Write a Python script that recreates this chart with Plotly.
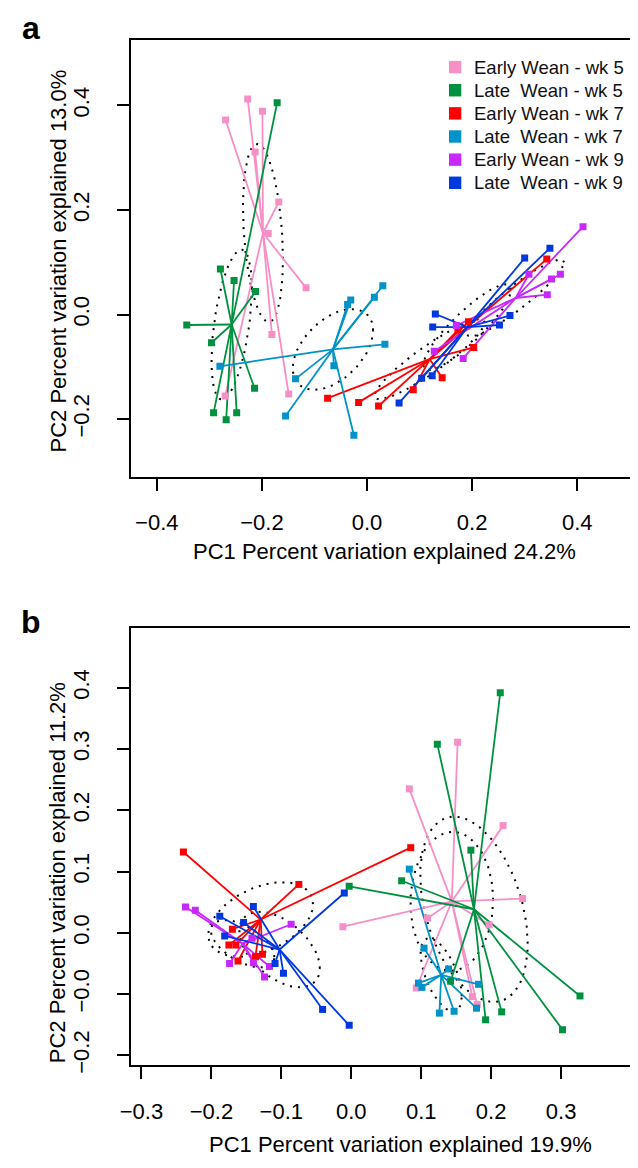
import numpy as np
import plotly.graph_objects as go

# ---------------- data ----------------
GROUPS = ["Early Wean - wk 5", "Late\u00a0 Wean - wk 5", "Early Wean - wk 7",
          "Late\u00a0 Wean - wk 7", "Early Wean - wk 9", "Late\u00a0 Wean - wk 9"]
COLORS = ["#F78FC7", "#009140", "#FF0000", "#0092C8", "#C828FF", "#0038E0"]

# panel a (PC1 24.2%, PC2 13.0%)
A_EW5_X = [-0.269, -0.227, -0.199, -0.213, -0.168, -0.188, -0.116, -0.181, -0.149, -0.270]
A_EW5_Y = [0.372, 0.412, 0.389, 0.311, 0.215, 0.155, 0.051, -0.038, -0.152, -0.156]
A_LW5_X = [-0.171, -0.279, -0.253, -0.212, -0.343, -0.296, -0.214, -0.292, -0.268, -0.248]
A_LW5_Y = [0.405, 0.087, 0.065, 0.044, -0.020, -0.054, -0.141, -0.188, -0.201, -0.188]
A_EW7_X = [-0.075, -0.016, 0.022, 0.088, 0.143, 0.203, 0.173, 0.193, 0.342]
A_EW7_Y = [-0.160, -0.168, -0.175, -0.144, -0.121, -0.063, -0.030, -0.014, 0.106]
A_LW7_X = [-0.031, -0.037, 0.014, 0.030, 0.034, -0.063, -0.280, -0.136, -0.155, -0.025]
A_LW7_Y = [0.028, 0.019, 0.033, 0.055, -0.057, -0.098, -0.099, -0.123, -0.194, -0.231]
A_EW9_X = [0.411, 0.368, 0.351, 0.343, 0.308, 0.183, 0.128, 0.170]
A_EW9_Y = [0.168, 0.077, 0.068, 0.038, 0.077, -0.084, -0.070, -0.021]
A_LW9_X = [0.061, 0.104, 0.124, 0.130, 0.125, 0.252, 0.272, 0.300, 0.348]
A_LW9_Y = [-0.169, -0.122, -0.117, 0.001, -0.024, -0.020, -0.002, 0.108, 0.127]

# panel b (PC1 19.9%, PC2 11.2%)
B_EW5_X = [0.152, 0.083, 0.217, 0.245, -0.012, 0.109, 0.197, 0.093, 0.173, 0.180]
B_EW5_Y = [0.311, 0.235, 0.175, 0.056, 0.010, 0.024, 0.013, -0.090, -0.104, -0.117]
B_LW5_X = [0.213, 0.123, 0.171, 0.072, -0.003, 0.327, 0.302, 0.215, 0.192, 0.142]
B_LW5_Y = [0.392, 0.308, 0.135, 0.085, 0.076, -0.103, -0.158, -0.129, -0.142, -0.079]
B_EW7_X = [-0.240, -0.075, -0.170, -0.175, -0.165, -0.162, -0.137, -0.127, 0.085]
B_EW7_Y = [0.132, 0.079, 0.006, -0.020, -0.020, -0.046, -0.039, -0.035, 0.139]
B_LW7_X = [0.083, 0.104, 0.139, 0.096, 0.101, 0.182, 0.126, 0.147, 0.179]
B_LW7_Y = [0.104, -0.025, -0.059, -0.082, -0.089, -0.084, -0.131, -0.128, -0.123]
B_EW9_X = [-0.237, -0.223, -0.086, -0.174, -0.140, -0.117, -0.124, -0.142]
B_EW9_Y = [0.042, 0.037, 0.014, -0.050, -0.049, -0.055, -0.072, -0.009]
B_LW9_X = [-0.140, -0.188, -0.154, -0.181, -0.109, -0.097, -0.041, -0.010, -0.003]
B_LW9_Y = [0.043, 0.027, 0.017, -0.005, -0.050, -0.066, -0.125, 0.065, -0.151]

A_XTICKS = [-0.4, -0.2, 0.0, 0.2, 0.4]
A_XLABELS = ["\u22120.4", "\u22120.2", "0.0", "0.2", "0.4"]
A_YTICKS = [-0.2, 0.0, 0.2, 0.4]
A_YLABELS = ["\u22120.2", "0.0", "0.2", "0.4"]
B_XTICKS = [-0.3, -0.2, -0.1, 0.0, 0.1, 0.2, 0.3]
B_XLABELS = ["\u22120.3", "\u22120.2", "\u22120.1", "0.0", "0.1", "0.2", "0.3"]
B_YTICKS = [-0.2, -0.1, 0.0, 0.1, 0.2, 0.3, 0.4]
B_YLABELS = ["\u22120.2", "\u22120.0", "0.0", "0.1", "0.2", "0.3", "0.4"]

A_XTITLE = "PC1 Percent variation explained 24.2%"
A_YTITLE = "PC2 Percent variation explained 13.0%"
B_XTITLE = "PC1 Percent variation explained 19.9%"
B_YTITLE = "PC2 Percent variation explained 11.2%"

PANEL_A = [(A_EW5_X, A_EW5_Y), (A_LW5_X, A_LW5_Y), (A_EW7_X, A_EW7_Y),
           (A_LW7_X, A_LW7_Y), (A_EW9_X, A_EW9_Y), (A_LW9_X, A_LW9_Y)]
PANEL_B = [(B_EW5_X, B_EW5_Y), (B_LW5_X, B_LW5_Y), (B_EW7_X, B_EW7_Y),
           (B_LW7_X, B_LW7_Y), (B_EW9_X, B_EW9_Y), (B_LW9_X, B_LW9_Y)]

# ---------------- helpers ----------------
T95 = np.sqrt(-2.0 * np.log(0.05))  # sqrt(qchisq(0.95, 2)) -> 95% ellipse of the centroid


def se_ellipse(x, y, npts=100):
    X = np.column_stack([x, y])
    c = X.mean(axis=0)
    cov = np.cov(X.T) / len(x)
    L = np.linalg.cholesky(cov)
    th = np.linspace(0, 2 * np.pi, npts)
    circ = np.column_stack([np.cos(th), np.sin(th)])
    pts = c + T95 * circ @ L.T
    return pts[:, 0], pts[:, 1]


PAGE_W, PAGE_H = 638, 1168
OFF = 8                      # browser body margin
W, H = PAGE_W - 2 * OFF, PAGE_H - 2 * OFF
FONT = "Liberation Sans, Arial, sans-serif"


def px(p):   # page x pixel -> paper fraction
    return (p - OFF) / W


def py(p):   # page y pixel -> paper fraction
    return 1 - (p - OFF) / H


fig = go.Figure()


def add_panel(data, xa, ya):
    for (x, y) in data:
        ex, ey = se_ellipse(x, y)
        fig.add_trace(go.Scatter(x=ex, y=ey, mode="lines", xaxis=xa, yaxis=ya,
                                 line=dict(color="black", width=2, dash="2px,6px"),
                                 showlegend=False, hoverinfo="skip"))
    for (x, y), col in zip(data, COLORS):
        cx, cy = float(np.mean(x)), float(np.mean(y))
        sx, sy = [], []
        for xi, yi in zip(x, y):
            sx += [cx, xi, None]
            sy += [cy, yi, None]
        fig.add_trace(go.Scatter(x=sx, y=sy, mode="lines", xaxis=xa, yaxis=ya,
                                 line=dict(color=col, width=1.8),
                                 showlegend=False, hoverinfo="skip"))
    for (x, y), col, name in zip(data, COLORS, GROUPS):
        fig.add_trace(go.Scatter(x=x, y=y, mode="markers", xaxis=xa, yaxis=ya,
                                 name=name, showlegend=False,
                                 marker=dict(symbol="square", size=7, color=col)))


add_panel(PANEL_A, "x", "y")
add_panel(PANEL_B, "x2", "y2")

axis_common = dict(showgrid=False, zeroline=False, showline=True, linecolor="black",
                   linewidth=2, ticks="outside", ticklen=12, tickwidth=1.5,
                   tickcolor="black", tickfont=dict(family=FONT, size=22, color="black"))

x_dom = [px(121.7), 1.0]
fig.update_layout(
    width=W, height=H, margin=dict(l=0, r=0, t=0, b=0),
    paper_bgcolor="white", plot_bgcolor="white",
    font=dict(family=FONT, color="black"),
    showlegend=False,
    xaxis=dict(domain=x_dom, range=[-0.4497, 0.5004], anchor="y", mirror=True,
               tickvals=A_XTICKS, ticktext=A_XLABELS, ticklabelstandoff=13, **axis_common),
    yaxis=dict(domain=[py(480), py(40)], range=[-0.3102, 0.5255], anchor="x",
               tickvals=A_YTICKS, ticktext=A_YLABELS, tickangle=-90, ticklabelstandoff=19,
               **axis_common),
    xaxis2=dict(domain=x_dom, range=[-0.3154, 0.3985], anchor="y2", mirror=True,
                tickvals=B_XTICKS, ticktext=B_XLABELS, ticklabelstandoff=13, **axis_common),
    yaxis2=dict(domain=[py(1072.7), py(632)], range=[-0.2162, 0.4981], anchor="x2",
                tickvals=B_YTICKS, ticktext=B_YLABELS, tickangle=-90, ticklabelstandoff=19,
                **axis_common),
)

# panel letters
fig.add_annotation(xref="paper", yref="paper", showarrow=False, text="<b>a</b>",
                   x=px(20), y=1.0, xanchor="center", yanchor="top", font=dict(size=32))
fig.add_annotation(xref="paper", yref="paper", showarrow=False, text="<b>b</b>",
                   x=px(20), y=py(626), xanchor="center", yanchor="middle", font=dict(size=32))

ann = [
    dict(text=A_XTITLE, x=px(380), y=py(555), font=dict(size=22)),
    dict(text=A_YTITLE, x=px(48), y=py(263), font=dict(size=22), textangle=-90),
    dict(text=B_XTITLE, x=px(396), y=py(1152), font=dict(size=22)),
    dict(text=B_YTITLE, x=px(48), y=py(879), font=dict(size=22), textangle=-90),
]
for a in ann:
    fig.add_annotation(xref="paper", yref="paper", showarrow=False,
                       xanchor="center", yanchor="middle", **a)

# legend (panel a, top right)
LEG_SQ_X, LEG_TXT_X, LEG_Y0, LEG_DY, LEG_SQ = 452, 469, 67.5, 23.3, 12.5
for i, (name, col) in enumerate(zip(GROUPS, COLORS)):
    yc = LEG_Y0 + i * LEG_DY
    fig.add_shape(type="rect", xref="paper", yref="paper",
                  x0=px(LEG_SQ_X - LEG_SQ / 2), x1=px(LEG_SQ_X + LEG_SQ / 2),
                  y0=py(yc + LEG_SQ / 2), y1=py(yc - LEG_SQ / 2),
                  fillcolor=col, line=dict(width=0))
    fig.add_annotation(xref="paper", yref="paper", showarrow=False, text=name,
                       x=px(LEG_TXT_X), y=py(yc), xanchor="left", yanchor="middle",
                       font=dict(family=FONT, size=18.5, color="#111"))

fig.write_html("out.html")
